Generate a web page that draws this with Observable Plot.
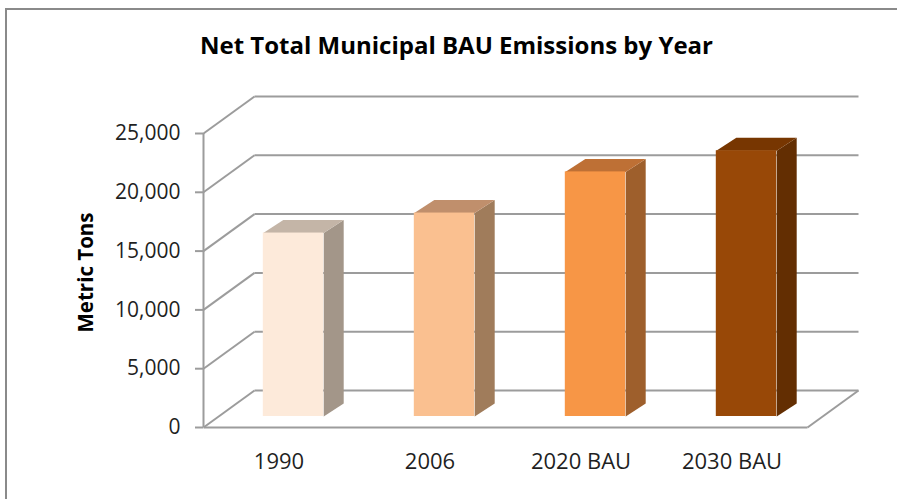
<!DOCTYPE html>
<html>
<head>
<meta charset="utf-8">
<script src="https://cdn.jsdelivr.net/npm/d3@7"></script>
<script src="https://cdn.jsdelivr.net/npm/@observablehq/plot@0.6"></script>
<style>
  html, body { margin: 0; padding: 0; background: #fff; }
  #wrap { position: relative; width: 897px; height: 499px; overflow: hidden; background: #fff; }
  #border { position: absolute; left: 5px; top: 8px; width: 1200px; height: 1200px; border: 2px solid #8a8a8a; box-sizing: border-box; }
  #title { position: absolute; left: 0; width: 913px; top: 33px; text-align: center; font-family: "Open Sans", sans-serif; font-weight: 700; font-size: 24px; line-height: 24px; color: #000; white-space: nowrap; }
  #chart { position: absolute; left: 0; top: 0; }
</style>
</head>
<body>
<div id="wrap">
  <div id="border"></div>
  <div id="chart"></div>
  <div id="title">Net Total Municipal BAU Emissions by Year</div>
</div>
<script>
const categories = ["1990", "2006", "2020 BAU", "2030 BAU"];
const values = [15600, 17300, 20800, 22600];
const frontColors = ["#FDEADA", "#FAC090", "#F79646", "#984807"];
const sideColors = ["#A39689", "#A07C5B", "#9E5F2C", "#632E02"];
const topColors = ["#C4B5A7", "#C08F6C", "#BE7035", "#773601"];
const yTicks = [0, 5000, 10000, 15000, 20000, 25000];
const yLabel = "Metric Tons";

const W = 897, H = 499, ML = 203, MR = 90, MT = 133, MB = 72;
const yMax = 25000;
const kx = (W - ML - MR) / categories.length;   // px per x unit
const ky = (H - MT - MB) / yMax;                // px per y unit
// wall depth (in data units) and bar offset/depth
const DX = 51 / kx, DY = 37 / ky;
const half = 0.2, bdx = 20 / kx, bdy = 13 / ky;
const barDx = 14.5, barDy = -11;

const bars = categories.map((c, i) => ({i, c, v: values[i], front: frontColors[i], side: sideColors[i], top: topColors[i]}));
const sides = bars.flatMap(b => [
  [b.i + half, 0], [b.i + half + bdx, bdy], [b.i + half + bdx, b.v + bdy], [b.i + half, b.v]
].map(([x, y]) => ({x, y, id: b.i, fill: b.side})));
const tops = bars.flatMap(b => [
  [b.i - half, b.v], [b.i + half, b.v], [b.i + half + bdx, b.v + bdy], [b.i - half + bdx, b.v + bdy]
].map(([x, y]) => ({x, y, id: b.i, fill: b.top})));

const x0 = -0.5, x1 = categories.length - 0.5;
const gridColor = "#9c9c9c";

const plot = Plot.plot({
  width: W, height: H,
  marginLeft: ML, marginRight: MR, marginTop: MT, marginBottom: MB,
  x: {domain: [x0, x1]},
  y: {domain: [0, yMax]},
  color: {type: "identity"},
  style: {fontFamily: "'Open Sans', sans-serif", fontSize: "21px", color: "#1f1f1f", background: "transparent", overflow: "visible"},
  marks: [
    // back wall gridlines
    Plot.link(yTicks, {x1: x0, x2: x1, y1: d => d, y2: d => d, dx: 51, dy: -37, stroke: gridColor, strokeWidth: 2}),
    // side wall diagonals
    Plot.link(yTicks, {x1: x0, y1: d => d, x2: x0 + DX, y2: d => d + DY, stroke: gridColor, strokeWidth: 2}),
    // floor front edge and right diagonal
    Plot.link([0], {x1: x0, y1: 0, x2: x1, y2: 0, stroke: gridColor, strokeWidth: 2}),
    Plot.link([0], {x1: x1, y1: 0, x2: x1 + DX, y2: DY, stroke: gridColor, strokeWidth: 2}),
    // vertical axis line
    Plot.ruleX([x0], {y1: 0, y2: yMax, stroke: gridColor, strokeWidth: 2}),
    // bars
    Plot.line(sides, {x: "x", y: "y", z: "id", fill: "fill", stroke: null, dx: barDx, dy: barDy, curve: "linear-closed"}),
    Plot.line(tops, {x: "x", y: "y", z: "id", fill: "fill", stroke: null, dx: barDx, dy: barDy, curve: "linear-closed"}),
    Plot.rectY(bars, {x1: d => d.i - half, x2: d => d.i + half, y1: 0, y2: "v", fill: "front", dx: barDx, dy: barDy}),
    // axes
    Plot.axisY({ticks: yTicks, tickFormat: d3.format(","), tickSize: 8, tickPadding: 15, stroke: gridColor, strokeWidth: 2, fill: "#1f1f1f", label: null}),
    Plot.axisX({ticks: bars.map(b => b.i), tickFormat: i => categories[i], tickSize: 0, tickPadding: 26, fontSize: 22, fill: "#1f1f1f", label: null}),
    Plot.text([yLabel], {frameAnchor: "left", dx: -117, dy: -8, rotate: -90, textAnchor: "middle", lineAnchor: "middle", fontWeight: "bold", fontSize: 20.5, fill: "#000"})
  ]
});
document.getElementById("chart").appendChild(plot);
</script>
</body>
</html>
